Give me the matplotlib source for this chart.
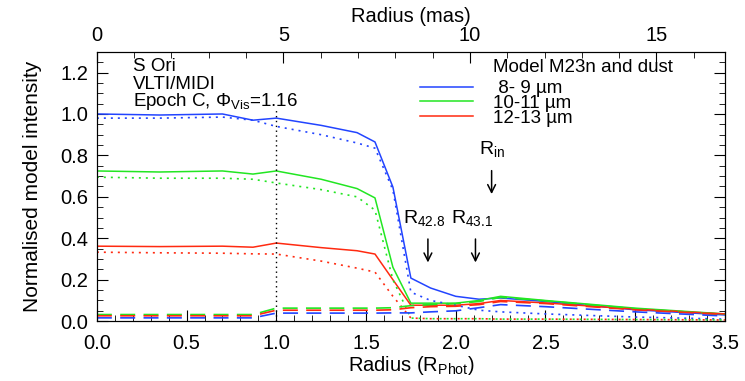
import numpy as np
import matplotlib
matplotlib.use('Agg')
import matplotlib.pyplot as plt
from matplotlib.ticker import MultipleLocator

plt.rcParams['font.family'] = ['Liberation Sans', 'DejaVu Sans']
plt.rcParams['mathtext.fontset'] = 'custom'
plt.rcParams['mathtext.rm'] = 'Liberation Sans'
plt.rcParams['mathtext.it'] = 'Liberation Sans'

# radius grid (R_Phot)
radius = [0.0, 0.35, 0.7, 0.87, 1.0, 1.25, 1.45, 1.55, 1.65, 1.75, 1.86, 2.0, 2.13, 2.25, 2.5, 3.0, 3.5]

# model M23n + dust (solid)
blue_solid = [1.0, 0.995, 1.0, 0.97, 0.98, 0.945, 0.91, 0.865, 0.647, 0.208, 0.16, 0.12, 0.106, 0.112, 0.095, 0.055, 0.03]
green_solid = [0.725, 0.72, 0.725, 0.71, 0.725, 0.685, 0.64, 0.595, 0.26, 0.087, 0.087, 0.087, 0.1, 0.12, 0.1, 0.063, 0.035]
red_solid = [0.362, 0.36, 0.362, 0.357, 0.377, 0.355, 0.34, 0.324, 0.2, 0.077, 0.077, 0.077, 0.085, 0.1, 0.088, 0.058, 0.035]

# dotted curves
blue_dot = [0.98, 0.98, 0.985, 0.97, 0.94, 0.9, 0.86, 0.835, 0.633, 0.14, 0.1, 0.077, 0.053, 0.045, 0.035, 0.02, 0.01]
green_dot = [0.695, 0.69, 0.69, 0.685, 0.667, 0.635, 0.6, 0.536, 0.2, 0.015, 0.012, 0.012, 0.012, 0.01, 0.01, 0.008, 0.006]
red_dot = [0.333, 0.33, 0.328, 0.325, 0.324, 0.29, 0.256, 0.237, 0.12, 0.015, 0.012, 0.012, 0.012, 0.01, 0.01, 0.008, 0.006]

# dashed curves (dust)
blue_dash = [0.016, 0.016, 0.016, 0.016, 0.039, 0.039, 0.039, 0.039, 0.04, 0.04, 0.045, 0.05, 0.065, 0.08, 0.07, 0.045, 0.025]
green_dash = [0.032, 0.032, 0.032, 0.032, 0.063, 0.063, 0.063, 0.063, 0.065, 0.075, 0.08, 0.085, 0.095, 0.115, 0.098, 0.06, 0.033]
red_dash = [0.026, 0.026, 0.026, 0.026, 0.053, 0.053, 0.053, 0.053, 0.055, 0.065, 0.07, 0.072, 0.08, 0.095, 0.085, 0.055, 0.033]

labels = [' 8- 9 µm', '10-11 µm', '12-13 µm']
mas_per_rphot = 4.81

c_blue = '#2244ff'
c_green = '#22e622'
c_red = '#ff2a10'

fig = plt.figure(figsize=(7.45, 3.81), dpi=100)
ax = fig.add_axes([0.130, 0.157, 0.843, 0.707])

lines = []
for ys, c, lab in zip([blue_solid, green_solid, red_solid], [c_blue, c_green, c_red], labels):
    l, = ax.plot(radius, ys, color=c, lw=1.1, label=lab)
    lines.append(l)
for ys, c in zip([blue_dot, green_dot, red_dot], [c_blue, c_green, c_red]):
    ax.plot(radius, ys, color=c, lw=1.2, linestyle=(0, (1.2, 3)))
for ys, c in zip([blue_dash, green_dash, red_dash], [c_blue, c_green, c_red]):
    ax.plot(radius, ys, color=c, lw=1.2, linestyle=(0, (9, 5)))

# R_Phot marker
ax.plot([1.0, 1.0], [0.0, 1.03], color='black', lw=1.0, linestyle=(0, (1, 2.5)))

ax.set_xlim(0, 3.5)
ax.set_ylim(0, 1.3)
ax.xaxis.set_major_locator(MultipleLocator(0.5))
ax.xaxis.set_minor_locator(MultipleLocator(0.1))
ax.yaxis.set_major_locator(MultipleLocator(0.2))
ax.yaxis.set_minor_locator(MultipleLocator(0.05))
ax.tick_params(which='both', direction='in', right=True, labelsize=14.5)
ax.tick_params(which='major', length=8)
ax.tick_params(which='minor', length=4)
ax.tick_params(axis='x', which='major', pad=9)
ax.tick_params(axis='y', which='major', pad=6)
ax.set_xlabel('Radius (R$_{\\mathregular{Phot}}$)', fontsize=14.5, labelpad=1)
ax.set_ylabel('Normalised model intensity', fontsize=15, labelpad=13)

# top axis in mas
ax2 = ax.twiny()
ax2.set_xlim(0, 3.5 * mas_per_rphot)
ax2.xaxis.set_major_locator(MultipleLocator(5))
ax2.xaxis.set_minor_locator(MultipleLocator(1))
ax2.tick_params(which='both', direction='in', labelsize=14.5)
ax2.tick_params(which='major', length=8, pad=5)
ax2.tick_params(which='minor', length=4)
ax2.set_xlabel('Radius (mas)', fontsize=14.5, labelpad=3)

# annotations
ax.text(0.057, 0.945, 'S Ori', transform=ax.transAxes, fontsize=13.5, va='center')
ax.text(0.057, 0.880, 'VLTI/MIDI', transform=ax.transAxes, fontsize=13.5, va='center')
ax.text(0.057, 0.815, 'Epoch C, Φ$_{\\mathregular{Vis}}$=1.16', transform=ax.transAxes,
        fontsize=13.5, va='center')

ax.text(0.631, 0.940, 'Model M23n and dust', transform=ax.transAxes, fontsize=13.5, va='center')
ax.legend(handles=lines, loc='upper left', bbox_to_anchor=(0.514, 0.895), frameon=False,
          fontsize=13.5, handlelength=2.83, handletextpad=1.07, labelspacing=-0.13,
          borderpad=0.0, borderaxespad=0.0)

arrow = dict(arrowstyle='->', color='black', lw=1.1, mutation_scale=14)
for xr, sub in [(1.845, '42.8'), (2.11, '43.1')]:
    ax.annotate('', xy=(xr, 0.27), xytext=(xr, 0.41), arrowprops=arrow)
    ax.text(xr - 0.02, 0.50, 'R$_{\\mathregular{' + sub + '}}$', fontsize=14, ha='center', va='center')
ax.annotate('', xy=(2.2, 0.6), xytext=(2.2, 0.74), arrowprops=arrow)
ax.text(2.2, 0.83, 'R$_{\\mathregular{in}}$', fontsize=14, ha='center', va='center')

plt.savefig('out.png', dpi=100)
